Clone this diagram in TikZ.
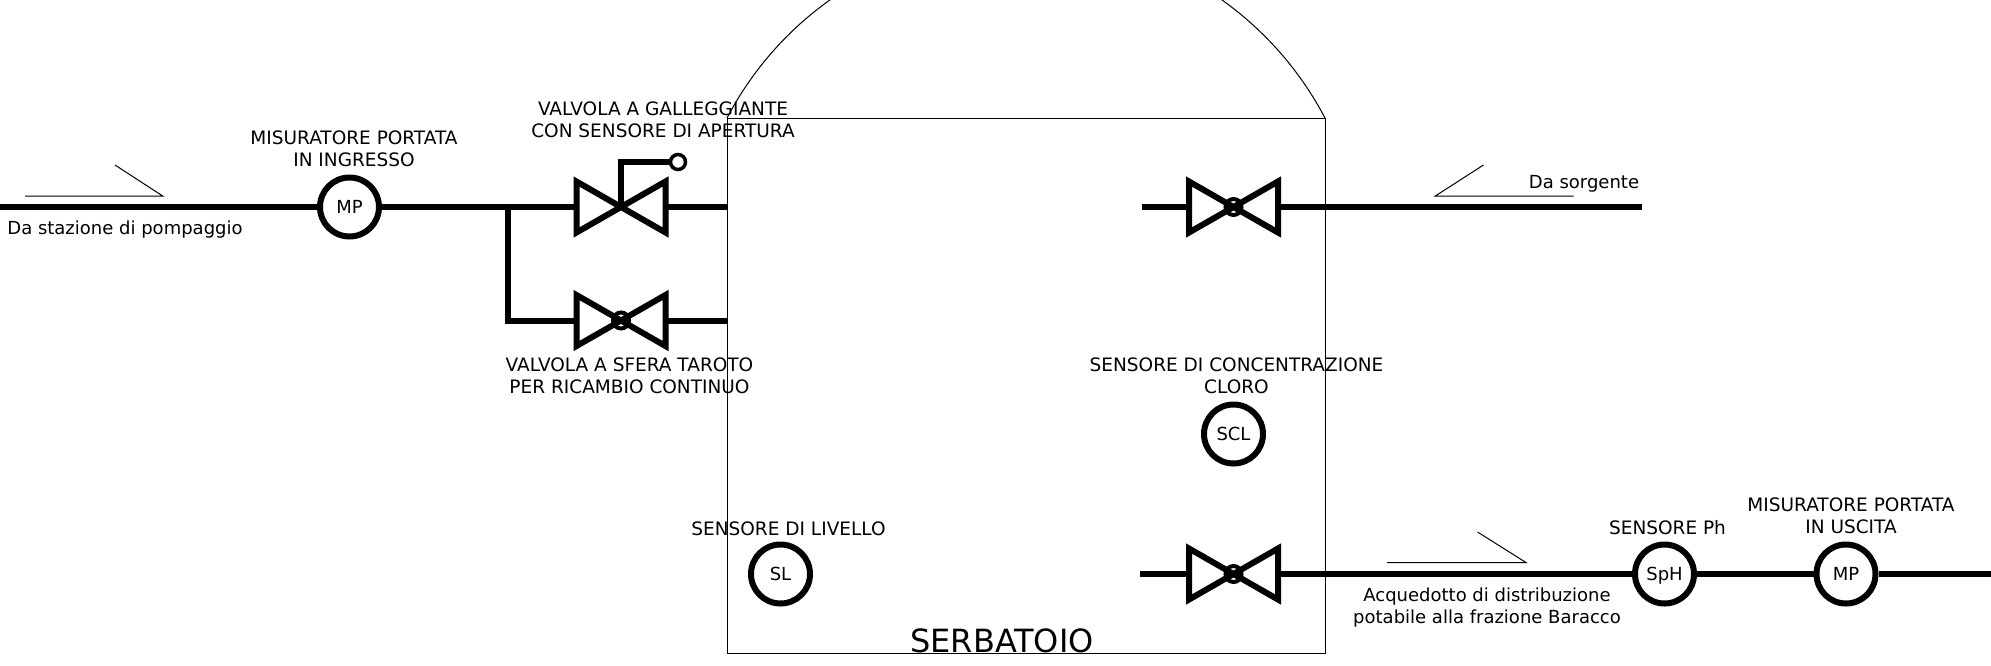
\documentclass[tikz,border=0pt]{standalone}
\usepackage{fontspec}
\setmainfont{DejaVu Sans}
\usetikzlibrary{positioning,calc}

\tikzset{
  tubo/.style={line width=6pt},
  sottile/.style={line width=1pt},
  sensore/.style={circle,draw,fill=white,line width=6pt,minimum size=59pt,inner sep=0pt,outer sep=3pt,text height=13.5pt,text depth=0pt,font=\fontsize{18}{22}\selectfont},
  etichetta/.style={anchor=base,align=center,inner sep=0pt,font=\fontsize{18.5}{22}\selectfont},
  didascalia/.style={etichetta,font=\fontsize{18}{22}\selectfont},
  corpovalvola/.pic={
    \draw[line width=6pt,miter limit=10] (-44.5,-25.5) -- (44.5,25.5) -- (44.5,-25.5) -- (-44.5,25.5) -- cycle;
    \coordinate (-in) at (-47,0);
    \coordinate (-out) at (47,0);
    \coordinate (-centro) at (0,0);
  },
  valvolasfera/.pic={
    \pic (-) {corpovalvola};
    \draw[line width=4pt] (0,0) circle[radius=8];
    \coordinate (-in) at (-47,0);
    \coordinate (-out) at (47,0);
  }
}

\begin{document}
\begin{tikzpicture}[x=1pt,y=-1pt]
  \useasboundingbox (0,0) rectangle (1991,665);

  \node[draw,sottile,rectangle,anchor=north west,minimum width=598pt,minimum height=535pt,inner sep=0pt,outer sep=0pt] (serb) at (727,118) {};
  \begin{scope}
    \clip (0,0) rectangle (1991,665);
    \draw[sottile] (serb.north west) arc[start angle=-152.3,end angle=-27.7,radius=337.7];
  \end{scope}

  \coordinate (inizio) at (0,207);
  \coordinate (bivio) at (508,207);
  \coordinate (sorgente) at (1642,207);
  \coordinate (fine) at (1991,574);
  \coordinate (interno1) at (1142,207);
  \coordinate (interno2) at (1140,574);

  \pic (V1) at (621,207) {corpovalvola};
  \pic (V2) at (621,320.5) {valvolasfera};
  \pic (V3) at (1233.5,207) {valvolasfera};
  \pic (V4) at (1233.5,574) {valvolasfera};

  \node[sensore] (MPin) at (349.5,207) {MP};
  \node[sensore] (SCL) at (1233.5,434) {SCL};
  \node[sensore] (SL) at (780.5,574) {SL};
  \node[sensore] (SPH) at (1664.5,574) {SpH};
  \node[sensore] (MPout) at (1846,574) {MP};

  \draw[tubo] (inizio) -- (MPin);
  \draw[tubo] (MPin) -- (V1-in);
  \draw[tubo] (V1-out) -- (V1-out -| serb.west);
  \draw[tubo] (bivio) -- (bivio |- V2-in) -- (V2-in);
  \draw[tubo] (V2-out) -- (V2-out -| serb.west);
  \draw[tubo] (interno1) -- (V3-in);
  \draw[tubo] (V3-out) -- (sorgente);
  \draw[tubo] (interno2) -- (V4-in);
  \draw[tubo] (V4-out) -- (SPH);
  \draw[tubo] (SPH) -- (MPout);
  \draw[tubo] (MPout) -- (fine);

  \node[circle,draw,line width=3.5pt,minimum size=15pt,inner sep=0pt,outer sep=1.75pt] (galleggiante) at (678,162) {};
  \draw[line width=5.5pt] (V1-centro) -- (V1-centro |- galleggiante) -- (galleggiante);

  \coordinate (f1a) at (25,196.2);
  \coordinate (f1b) at (163,196.2);
  \coordinate (f1c) at (115,165);
  \draw[sottile] (f1a) -- (f1b) -- (f1c);
  \coordinate (f2a) at (1573.5,196.2);
  \coordinate (f2b) at (1435,196.2);
  \coordinate (f2c) at (1483.5,165);
  \draw[sottile] (f2a) -- (f2b) -- (f2c);
  \coordinate (f3a) at (1387,562.5);
  \coordinate (f3b) at (1526,562.5);
  \coordinate (f3c) at (1477.5,532);
  \draw[sottile] (f3a) -- (f3b) -- (f3c);

  \node[didascalia] (tStazione) at (125,234) {Da stazione di pompaggio};
  \node[didascalia] (tSorgente) at (1584,188) {Da sorgente};
  \node[etichetta] (tMPin) at (354,166.7) {MISURATORE PORTATA\\IN INGRESSO};
  \node[etichetta] (tV1) at (663,137) {VALVOLA A GALLEGGIANTE\\CON SENSORE DI APERTURA};
  \node[etichetta] (tV2) at (629.5,393) {VALVOLA A SFERA TAROTO\\PER RICAMBIO CONTINUO};
  \node[etichetta] (tSCL) at (1236.5,393) {SENSORE DI CONCENTRAZIONE\\CLORO};
  \node[etichetta] (tSL) at (788.5,535) {SENSORE DI LIVELLO};
  \node[etichetta] (tSPH) at (1667.5,534) {SENSORE Ph};
  \node[etichetta] (tMPout) at (1851,533) {MISURATORE PORTATA\\IN USCITA};
  \node[didascalia] (tAcq) at (1487,623) {Acquedotto di distribuzione\\potabile alla frazione Baracco};
  \node[anchor=base,inner sep=0pt,font=\fontsize{32}{36}\selectfont] (tSerb) at (1002,652) {SERBATOIO};
\end{tikzpicture}
\end{document}
